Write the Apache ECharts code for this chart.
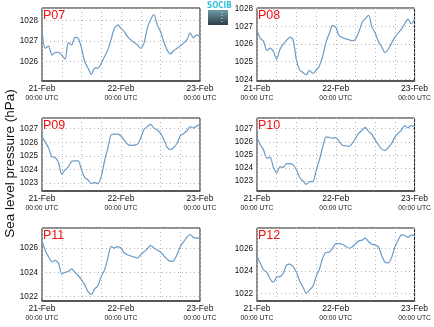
<!DOCTYPE html>
<html>
<head>
<meta charset="utf-8">
<script src="https://cdn.jsdelivr.net/npm/echarts@6/dist/echarts.min.js"></script>
<style>
html,body{margin:0;padding:0;background:#fff}
#chart{width:434px;height:327px}
</style>
</head>
<body>
<div id="chart"></div>
<script>
// Hours since 21-Feb 00:00 UTC
const hours = [0,1,2,3,4,5,6,7,8,9,10,11,12,13,14,15,16,17,18,19,20,21,22,23,24,
  25,26,27,28,29,30,31,32,33,34,35,36,37,38,39,40,41,42,43,44,45,46,47,48];

const tickHours = [0, 24, 48];
const tickDays = ['21-Feb', '22-Feb', '23-Feb'];
const tickTime = '00:00 UTC';

const stations = ['P07', 'P08', 'P09', 'P10', 'P11', 'P12'];

// Sea level pressure (hPa), hourly
const p07 = [1027.46,1026.64,1026.75,1026.31,1026.43,1026.44,1026.31,1026.10,1026.92,1026.80,
  1027.18,1027.13,1026.64,1025.98,1025.66,1025.35,1025.66,1025.66,1025.90,1026.23,
  1026.56,1027.08,1027.62,1027.79,1027.62,1027.46,1027.21,1027.05,1026.92,1026.80,
  1026.64,1026.89,1027.62,1028.05,1028.30,1027.79,1027.46,1026.97,1026.56,1026.36,
  1026.52,1026.64,1026.75,1026.89,1027.05,1027.38,1027.15,1027.30,1027.20];
const p08 = [1026.78,1026.34,1026.15,1025.64,1025.77,1025.58,1025.14,1025.71,1026.00,1026.21,
  1026.40,1026.25,1025.10,1024.53,1024.38,1024.25,1024.50,1024.34,1024.50,1024.76,
  1025.30,1026.10,1026.59,1027.05,1026.97,1026.48,1026.38,1026.30,1026.25,1026.19,
  1026.29,1026.67,1027.24,1027.45,1027.65,1026.97,1026.63,1026.15,1025.83,1025.52,
  1025.71,1026.06,1026.40,1026.63,1026.86,1027.16,1027.43,1027.16,1027.43];
const p09 = [1026.43,1026.01,1025.57,1024.95,1024.88,1024.53,1023.64,1023.96,1024.19,1024.58,
  1024.63,1024.63,1023.96,1023.40,1023.22,1022.95,1023.05,1022.95,1023.47,1024.63,
  1025.57,1026.56,1026.60,1026.60,1026.46,1026.16,1025.86,1025.77,1025.79,1025.86,
  1026.31,1026.95,1027.17,1027.32,1027.05,1026.90,1026.65,1026.21,1025.64,1025.47,
  1025.62,1025.91,1026.48,1026.63,1026.85,1027.15,1027.05,1027.20,1027.30];
const p10 = [1026.33,1025.77,1025.38,1024.74,1024.82,1024.03,1023.62,1024.08,1024.03,1024.33,
  1024.33,1024.23,1023.85,1023.26,1023.00,1022.74,1022.95,1022.95,1023.77,1024.62,
  1025.56,1026.36,1026.33,1026.28,1026.31,1026.03,1025.74,1025.69,1025.64,1025.87,
  1026.26,1026.64,1026.87,1027.10,1026.79,1026.56,1026.13,1025.77,1025.44,1025.33,
  1025.56,1025.87,1026.36,1026.64,1026.90,1027.23,1027.08,1027.23,1027.18];
const p11 = [1026.61,1025.78,1025.28,1024.84,1024.98,1024.76,1023.85,1024.01,1024.07,1024.29,
  1024.01,1023.74,1023.38,1022.97,1022.41,1022.19,1022.63,1022.91,1023.66,1024.21,
  1025.17,1026.14,1026.00,1026.11,1026.00,1025.59,1025.45,1025.34,1025.26,1025.17,
  1025.45,1025.70,1025.94,1026.22,1026.00,1025.83,1025.67,1025.37,1025.09,1024.90,
  1024.95,1025.45,1026.11,1026.50,1026.88,1027.10,1026.88,1026.83,1026.77];
const p12 = [1025.28,1024.69,1024.09,1023.88,1023.28,1022.99,1023.46,1023.49,1023.79,1024.54,
  1024.60,1024.39,1023.88,1023.10,1022.57,1022.00,1022.30,1022.60,1023.49,1024.15,
  1025.13,1025.64,1025.67,1026.03,1026.45,1026.45,1026.39,1026.21,1026.03,1026.15,
  1026.42,1026.69,1026.75,1026.93,1026.63,1026.39,1026.33,1026.15,1025.37,1024.78,
  1024.72,1025.19,1026.15,1026.75,1027.22,1027.19,1026.99,1027.22,1027.16];

const seriesValues = [p07, p08, p09, p10, p11, p12];

// Panel placement and y scales
const colLeft = [42, 257];
const rowTop = [8, 118, 228];
const panelW = 158, panelH = 73;
const yRange = [
  [1025.03, 1028.62, 1], [1023.90, 1028.06, 1],
  [1022.41, 1027.79, 1], [1022.23, 1027.82, 1],
  [1021.64, 1027.65, 2], [1021.31, 1027.84, 2]
];

const grids = [], xAxes = [], yAxes = [], series = [], titles = [];
stations.forEach((name, i) => {
  const left = colLeft[i % 2], top = rowTop[Math.floor(i / 2)];
  grids.push({
    left: left, top: top, width: panelW, height: panelH,
    show: true, borderColor: '#1a1a1a', borderWidth: 1, backgroundColor: '#fff'
  });
  xAxes.push({
    gridIndex: i, type: 'value', min: 0, max: 48, interval: 6,
    axisLine: { show: true, onZero: false, lineStyle: { color: '#444', width: 1.6 } },
    axisTick: { show: false },
    splitLine: { show: true, lineStyle: { color: '#b5b5b5', type: [1, 3], width: 1 } },
    axisLabel: {
      margin: 3, color: '#111', fontFamily: 'Liberation Sans',
      formatter: v => {
        const k = tickHours.indexOf(v);
        return k < 0 ? '' : '{d|' + tickDays[k] + '}\n{t|' + tickTime + '}';
      },
      rich: {
        d: { fontSize: 8.5, lineHeight: 10, fontFamily: 'Liberation Sans', color: '#111' },
        t: { fontSize: 6.8, lineHeight: 9, fontFamily: 'Liberation Sans', color: '#222' }
      }
    }
  });
  const yr = yRange[i];
  yAxes.push({
    gridIndex: i, type: 'value', min: yr[0], max: yr[1],
    minInterval: yr[2], maxInterval: yr[2], splitNumber: yr[2] === 1 ? 4 : 3,
    axisLine: { show: false }, axisTick: { show: false },
    splitLine: { show: true, lineStyle: { color: '#b5b5b5', type: [1, 3], width: 1 } },
    axisLabel: {
      margin: 4, fontSize: 8.2, color: '#111', fontFamily: 'Liberation Sans',
      formatter: v => (Math.abs(v - Math.round(v)) < 1e-6 ? String(Math.round(v)) : '')
    }
  });
  series.push({
    type: 'line', xAxisIndex: i, yAxisIndex: i,
    data: hours.map((h, k) => [h, seriesValues[i][k]]),
    showSymbol: false, smooth: 0.25,
    lineStyle: { color: '#6b9bc9', width: 1.2 }
  });
  titles.push({
    text: name, left: left + 1, top: top + 1,
    textStyle: { color: '#ee1111', fontSize: 12.5, fontWeight: 'normal', fontFamily: 'Liberation Sans' },
    padding: 0
  });
});

const chart = echarts.init(document.getElementById('chart'), null, { renderer: 'canvas' });
chart.setOption({
  animation: false,
  backgroundColor: '#fff',
  title: titles,
  grid: grids,
  xAxis: xAxes,
  yAxis: yAxes,
  series: series,
  graphic: [
    {
      type: 'text', left: 3, top: 'middle',
      rotation: Math.PI / 2,
      style: { text: 'Sea level pressure (hPa)', fontSize: 13.5, fontFamily: 'Liberation Sans', fill: '#111' },
      x: 10, y: 170
    },
    {
      type: 'group', left: 207, top: 2,
      children: [
        { type: 'rect', shape: { x: 1, y: 8, width: 20, height: 15 },
          style: { fill: new echarts.graphic.LinearGradient(0, 0, 0, 1, [
            { offset: 0, color: '#6f9aa8' }, { offset: 1, color: '#2f3d48' }]) } },
        { type: 'line', shape: { x1: 15, y1: 10, x2: 15, y2: 21 },
          style: { stroke: '#dfe8ec', lineWidth: 1, lineDash: [1, 2] } },
        { type: 'text', x: 0, y: 0,
          style: { text: 'SOCIB', fontSize: 8, fontWeight: 'bold', fontFamily: 'DejaVu Sans Condensed', fill: '#35c3da' } }
      ]
    }
  ]
});
</script>
</body>
</html>
